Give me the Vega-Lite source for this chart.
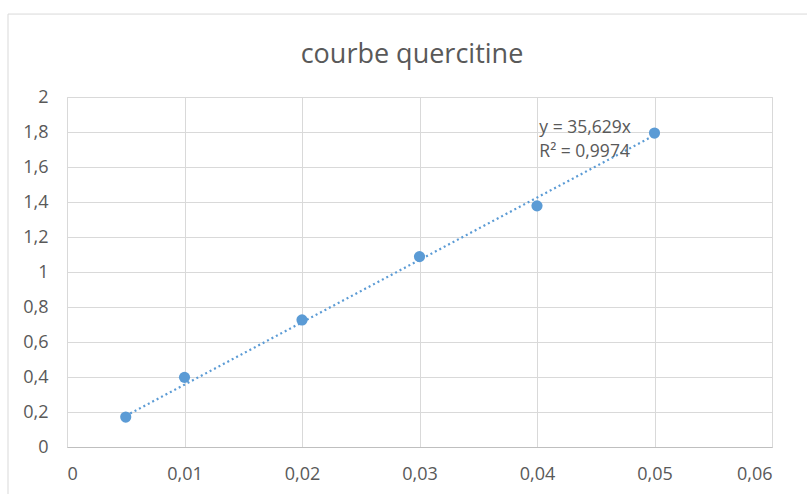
{
  "$schema": "https://vega.github.io/schema/vega-lite/v6.json",
  "autosize": "none",
  "width": 705,
  "height": 350,
  "padding": {"left": 67, "top": 97, "right": 35, "bottom": 47},
  "background": "white",
  "config": {
    "view": {"stroke": "#d9d9d9", "strokeWidth": 1},
    "axis": {
      "gridColor": "#d9d9d9",
      "gridWidth": 1,
      "ticks": false,
      "domain": false,
      "labelFont": "Open Sans",
      "labelFontSize": 18,
      "labelColor": "#595959",
      "labelOverlap": false,
      "title": null
    }
  },
  "data": {
    "values": [
      {"conc": 0.005, "abs": 0.171},
      {"conc": 0.01, "abs": 0.398},
      {"conc": 0.02, "abs": 0.726},
      {"conc": 0.03, "abs": 1.088},
      {"conc": 0.04, "abs": 1.378},
      {"conc": 0.05, "abs": 1.794}
    ]
  },
  "layer": [
    {
      "data": {"values": [{"conc": 0.005, "fit": 0.1781}, {"conc": 0.05, "fit": 1.7815}]},
      "mark": {"type": "line", "color": "#5b9bd5", "strokeWidth": 2.2, "strokeDash": [2, 3]},
      "encoding": {
        "x": {
          "field": "conc",
          "type": "quantitative",
          "scale": {"domain": [0, 0.06], "nice": false},
          "axis": {
            "values": [0, 0.01, 0.02, 0.03, 0.04, 0.05, 0.06],
            "tickCount": 7,
            "labelExpr": "replace(format(datum.value, '.2~f'), '.', ',')",
            "labelPadding": 18,
            "domain": true,
            "domainColor": "#bfbfbf"
          }
        },
        "y": {
          "field": "fit",
          "type": "quantitative",
          "scale": {"domain": [0, 2], "nice": false},
          "axis": {
            "values": [0, 0.2, 0.4, 0.6, 0.8, 1, 1.2, 1.4, 1.6, 1.8, 2],
            "tickCount": 11,
            "labelExpr": "replace(format(datum.value, '.1~f'), '.', ',')",
            "labelPadding": 19
          }
        }
      }
    },
    {
      "data": {"values": [{"label": "chart"}]},
      "mark": {"type": "rect", "fill": null, "stroke": "#d9d9d9", "strokeWidth": 1, "clip": false},
      "encoding": {
        "x": {"datum": -0.00502, "type": "quantitative"},
        "x2": {"datum": 0.1},
        "y": {"datum": 2.474, "type": "quantitative"},
        "y2": {"datum": -1}
      }
    },
    {
      "mark": {"type": "circle", "color": "#5b9bd5", "opacity": 1, "size": 125},
      "encoding": {
        "x": {"field": "conc", "type": "quantitative"},
        "y": {"field": "abs", "type": "quantitative"}
      }
    },
    {
      "data": {"values": [{"label": "y = 35,629x"}]},
      "mark": {"type": "text", "align": "left", "baseline": "alphabetic", "font": "Open Sans", "fontSize": 17.5, "fontWeight": "normal", "color": "#595959", "lineHeight": 24},
      "encoding": {
        "x": {"datum": 0.0402, "type": "quantitative"},
        "y": {"datum": 1.794, "type": "quantitative"},
        "text": {"value": ["y = 35,629x", "R² = 0,9974"]}
      }
    },
    {
      "data": {"values": [{"label": "courbe quercitine"}]},
      "mark": {"type": "text", "align": "center", "baseline": "alphabetic", "font": "Open Sans", "fontSize": 27, "fontWeight": "normal", "color": "#595959", "clip": false},
      "encoding": {
        "x": {"datum": 0.02936, "type": "quantitative"},
        "y": {"datum": 2.194, "type": "quantitative"},
        "text": {"field": "label", "type": "nominal"}
      }
    }
  ]
}
